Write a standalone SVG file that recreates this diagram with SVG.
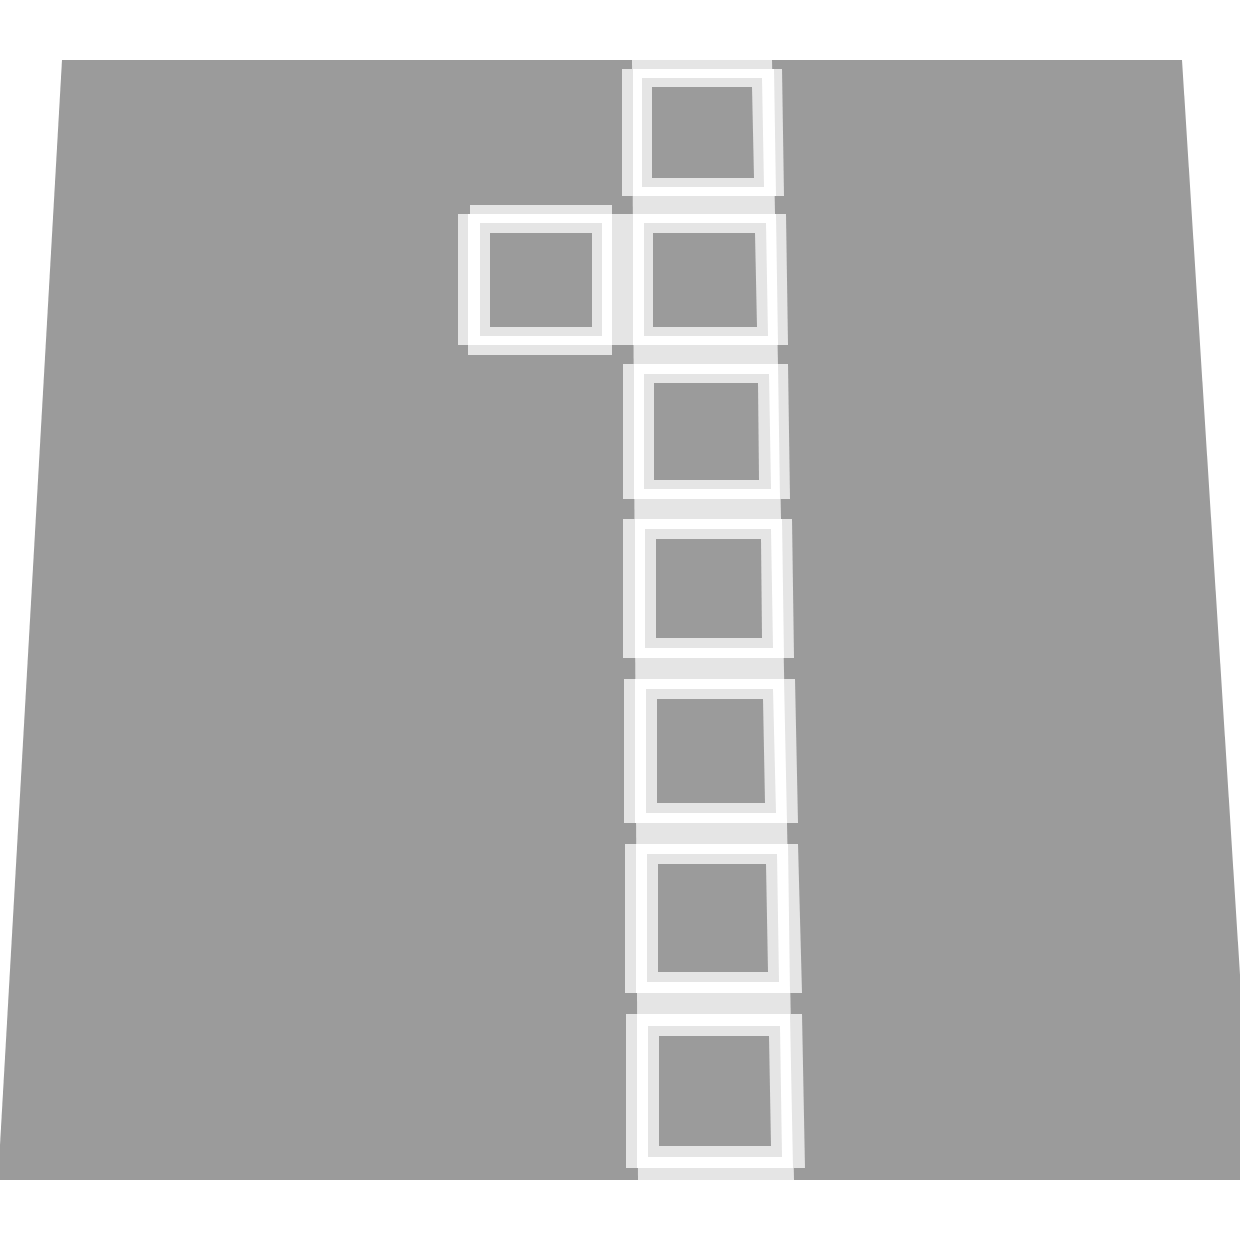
<svg xmlns="http://www.w3.org/2000/svg" width="1240" height="1240" viewBox="0 0 1240 1240">
<style>
.bg{fill:#9b9b9b}
.lg{fill:#e5e5e5}
.wh{fill:#ffffff}
.gr{fill:#9b9b9b}
</style>
<rect x="0" y="0" width="1240" height="1240" fill="#ffffff"/>
<polygon id="ground" class="bg" points="62,60 1182,60 1253,1180 -2,1180"/>
<polygon id="band" class="lg" points="632,60 772,60 794,1180 638,1180"/>
<g id="square-1">
<polygon class="lg" points="622,69 782,69 784,196 622,196"/>
<polygon class="wh" points="633,69 774,69 776,196 633,196"/>
<polygon class="lg" points="642,78 762,78 764,187 642,187"/>
<polygon class="gr" points="652,87 752,87 754,178 652,178"/>
</g>
<g id="square-left">
<polygon class="lg" points="470,205 612,205 612,214 470,214"/>
<polygon class="lg" points="458,214 468,214 468,345 458,345"/>
<polygon class="lg" points="468,345 612,345 612,355 468,355"/>
<polygon class="lg" points="612,214 633,214 633,345 612,345"/>
<polygon class="wh" points="468,214 612,214 612,345 468,345"/>
<polygon class="lg" points="480,223 602,223 602,336 480,336"/>
<polygon class="gr" points="490,233 592,233 592,327 490,327"/>
</g>
<g id="square-2">
<polygon class="lg" points="623,214 786,214 788,345 623,345"/>
<polygon class="wh" points="633,214 776,214 778,345 633,345"/>
<polygon class="lg" points="644,223 766,223 768,336 644,336"/>
<polygon class="gr" points="653,233 755,233 757,327 653,327"/>
</g>
<g id="square-3">
<polygon class="lg" points="623,364 788,364 790,499 623,499"/>
<polygon class="wh" points="634,364 778,364 780,499 634,499"/>
<polygon class="lg" points="644,374 769,374 771,489 644,489"/>
<polygon class="gr" points="654,383 758,383 759,480 654,480"/>
</g>
<g id="square-4">
<polygon class="lg" points="623,519 792,519 794,658 623,658"/>
<polygon class="wh" points="635,519 782,519 784,658 635,658"/>
<polygon class="lg" points="645,529 771,529 773,648 645,648"/>
<polygon class="gr" points="656,539 761,539 762,638 656,638"/>
</g>
<g id="square-5">
<polygon class="lg" points="624,679 795,679 798,823 624,823"/>
<polygon class="wh" points="635,679 784,679 787,823 635,823"/>
<polygon class="lg" points="646,689 773,689 776,813 646,813"/>
<polygon class="gr" points="657,699 763,699 765,803 657,803"/>
</g>
<g id="square-6">
<polygon class="lg" points="625,844 798,844 802,993 625,993"/>
<polygon class="wh" points="636,844 788,844 790,993 636,993"/>
<polygon class="lg" points="647,854 777,854 779,982 647,982"/>
<polygon class="gr" points="658,864 766,864 768,972 658,972"/>
</g>
<g id="square-7">
<polygon class="lg" points="626,1014 802,1014 805,1168 626,1168"/>
<polygon class="wh" points="637,1014 790,1014 793,1168 637,1168"/>
<polygon class="lg" points="648,1026 780,1026 782,1157 648,1157"/>
<polygon class="gr" points="659,1036 769,1036 771,1146 659,1146"/>
</g>
<g id="connectors"></g>
</svg>
